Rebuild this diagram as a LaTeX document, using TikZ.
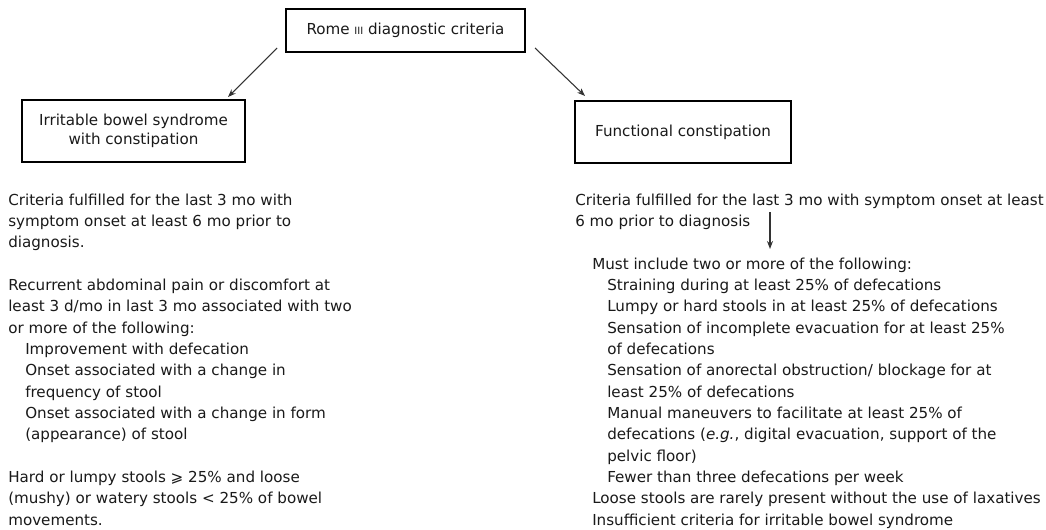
\documentclass[tikz,border=0pt]{standalone}
\usepackage{fontspec}
\setmainfont{DejaVu Sans}
\usetikzlibrary{arrows.meta}
\definecolor{ink}{HTML}{1A1A1A}
\definecolor{arrowgray}{HTML}{333333}
\newcommand\txtline[4]{\node[txt] (#1) at (#2,#3) {#4};}
\begin{document}
\begin{tikzpicture}[x=0.75pt,y=-0.75pt,
  txt/.style={anchor=base west,inner sep=0pt,text=ink,font=\fontsize{11.35}{13}\selectfont},
  box/.style={draw=black,line width=0.9pt,inner sep=0pt,align=center,text=ink,font=\fontsize{11.35}{14.6}\selectfont},
  arr/.style={draw=arrowgray,line width=0.8pt,-{Stealth[length=6pt,width=4.5pt]}}]
\useasboundingbox[fill=white] (0,0) rectangle (1046,529);
% boxes
\node[box,minimum width=179.25pt,minimum height=32.25pt] (top) at (405.5,30.5) {Rome {\fontsize{7.5}{8}\selectfont III} diagnostic criteria};
\node[box,minimum width=167.25pt,minimum height=46.5pt] (ibs) at (133.5,131) {Irritable bowel syndrome\\with constipation};
\node[box,minimum width=162pt,minimum height=46.5pt] (fc) at (683,132) {Functional constipation};
% arrows
\coordinate (a1s) at (277,48);
\coordinate (a1e) at (228,97);
\coordinate (a2s) at (535,48);
\coordinate (a2e) at (585,96);
\draw[arr] (a1s) -- (a1e);
\draw[arr] (a2s) -- (a2e);
% left column
\txtline{l0}{8}{205}{Criteria fulfilled for the last 3 mo with}
\txtline{l1}{8}{226.33}{symptom onset at least 6 mo prior to}
\txtline{l2}{8}{247.67}{diagnosis.}
\txtline{l4}{8}{290.33}{Recurrent abdominal pain or discomfort at}
\txtline{l5}{8}{311.67}{least 3 d/mo in last 3 mo associated with two}
\txtline{l6}{8}{333}{or more of the following:}
\txtline{l7}{25}{354.33}{Improvement with defecation}
\txtline{l8}{25}{375.67}{Onset associated with a change in}
\txtline{l9}{25}{397}{frequency of stool}
\txtline{l10}{25}{418.33}{Onset associated with a change in form}
\txtline{l11}{25}{439.67}{(appearance) of stool}
\txtline{l13}{8}{482.33}{Hard or lumpy stools ⩾ 25\% and loose}
\txtline{l14}{8}{503.67}{(mushy) or watery stools < 25\% of bowel}
\txtline{l15}{8}{525}{movements.}
% right column
\txtline{r0}{575}{205}{Criteria fulfilled for the last 3 mo with symptom onset at least}
\txtline{r1}{575}{226.33}{6 mo prior to diagnosis}
\txtline{r3}{592}{269}{Must include two or more of the following:}
\txtline{r4}{607}{290.33}{Straining during at least 25\% of defecations}
\txtline{r5}{607}{311.67}{Lumpy or hard stools in at least 25\% of defecations}
\txtline{r6}{607}{333}{Sensation of incomplete evacuation for at least 25\%}
\txtline{r7}{607}{354.33}{of defecations}
\txtline{r8}{607}{375.67}{Sensation of anorectal obstruction/ blockage for at}
\txtline{r9}{607}{397}{least 25\% of defecations}
\txtline{r10}{607}{418.33}{Manual maneuvers to facilitate at least 25\% of}
\txtline{r11}{607}{439.67}{defecations (\textit{e.g.}, digital evacuation, support of the}
\txtline{r12}{607}{461}{pelvic floor)}
\txtline{r13}{607}{482.33}{Fewer than three defecations per week}
\txtline{r14}{592}{503.67}{Loose stools are rarely present without the use of laxatives}
\txtline{r15}{592}{525}{Insufficient criteria for irritable bowel syndrome}
% small arrow
\coordinate (a3s) at (770,212);
\coordinate (a3e) at (770,249);
\draw[arr] (a3s) -- (a3e);
\end{tikzpicture}
\end{document}
